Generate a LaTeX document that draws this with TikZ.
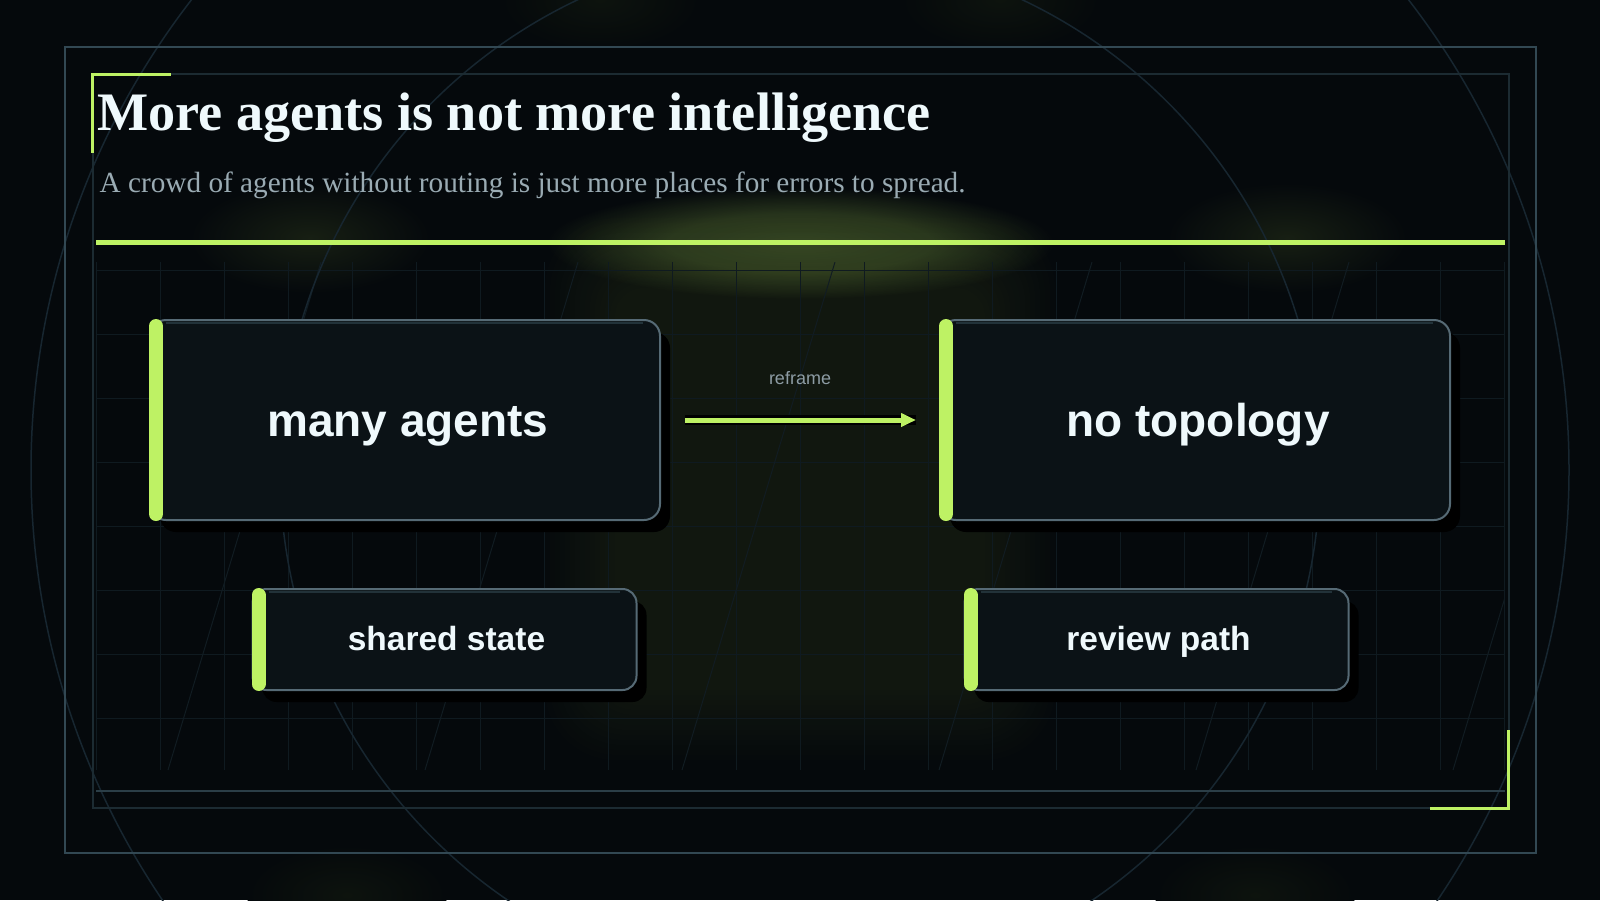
\documentclass[tikz,border=0pt]{standalone}
\usepackage{fontspec}
\setmainfont{Liberation Serif}
\setsansfont{Liberation Sans}
\usetikzlibrary{arrows.meta,calc,shadows,fadings}

\definecolor{bgc}{HTML}{05090C}
\definecolor{limec}{HTML}{BEF264}
\definecolor{framec}{HTML}{324853}
\definecolor{innerc}{HTML}{1C2B32}
\definecolor{footc}{HTML}{2B3E47}
\definecolor{circc}{HTML}{172630}
\definecolor{gridc}{HTML}{0F1A20}
\definecolor{diagc}{HTML}{111C22}
\definecolor{boxc}{HTML}{0B1216}
\definecolor{bordc}{HTML}{566A75}
\definecolor{hic}{HTML}{223239}
\definecolor{titlec}{HTML}{EFF9FC}
\definecolor{subc}{HTML}{9AABB3}
\definecolor{labc}{HTML}{8D9CA4}
\definecolor{glowc}{HTML}{11170F}
\definecolor{glowside}{HTML}{171F13}
\definecolor{glowfaint}{HTML}{0D130D}

\pgfdeclareradialshading{platshade}{\pgfpoint{0bp}{0bp}}{color(0bp)=(white); color(6.5bp)=(white!78!black); color(12.5bp)=(black); color(50bp)=(black)}
\pgfdeclarefading{platfade}{\tikz\shade[shading=platshade] (-50bp,-50bp) rectangle (50bp,50bp);}
\pgfdeclareradialshading{sideglow}{\pgfpoint{0bp}{0bp}}{color(0bp)=(glowside); color(25bp)=(bgc); color(50bp)=(bgc)}
\pgfdeclareradialshading{faintglow}{\pgfpoint{0bp}{0bp}}{color(0bp)=(glowfaint); color(25bp)=(bgc); color(50bp)=(bgc)}

\begin{document}
\begin{tikzpicture}[x=1pt,y=-1pt,
  gridline/.style={draw=gridc, line width=1pt},
  diagline/.style={draw=diagc, line width=1pt},
  ringline/.style={draw=circc, line width=1.5pt},
  cornerline/.style={draw=limec, line width=3pt},
  accentbar/.style={draw=limec, line width=14pt, line cap=round},
  hiline/.style={draw=hic, line width=2pt},
  bigbox/.style={draw=bordc, line width=2pt, fill=boxc, rounded corners=16pt,
    minimum width=510pt, minimum height=200pt, inner sep=0pt,
    font=\sffamily\bfseries\fontsize{46}{50}\selectfont, text=titlec,
    text height=33.4pt, text depth=0pt,
    drop shadow={shadow xshift=10pt, shadow yshift=-12pt, fill=black, opacity=1}},
  smallbox/.style={draw=bordc, line width=2pt, fill=boxc, rounded corners=14pt,
    minimum width=384pt, minimum height=101pt, inner sep=0pt,
    font=\sffamily\bfseries\fontsize{33.5}{38}\selectfont, text=titlec,
    text height=22.4pt, text depth=0pt,
    drop shadow={shadow xshift=10pt, shadow yshift=-12pt, fill=black, opacity=1}},
  labstyle/.style={font=\sffamily\fontsize{18}{20}\selectfont, text=labc, inner sep=0pt}
]
\useasboundingbox (0,0) rectangle (1600,900);
\fill[bgc] (0,0) rectangle (1600,900);

% ---- glows ----
\foreach \i in {0,...,14}{
  \pgfmathsetmacro{\pc}{(\i+1)*100/15}
  \fill[glowc!\pc!bgc, rounded corners={70pt-3pt*\i}]
    ({545+5*\i},{218+5*\i}) rectangle ({1055-5*\i},{760-5*\i});
}
\fill[limec, opacity=0.24, path fading=platfade] (800,243) ellipse [x radius=255, y radius=56];
\shade[shading=sideglow] (310,238) ellipse [x radius=120, y radius=55];
\shade[shading=sideglow] (1287,238) ellipse [x radius=120, y radius=55];
\shade[shading=faintglow] (600,0) ellipse [x radius=100, y radius=50];
\shade[shading=faintglow] (1000,0) ellipse [x radius=100, y radius=50];
\shade[shading=faintglow] (347,895) ellipse [x radius=100, y radius=50];
\shade[shading=faintglow] (1255,895) ellipse [x radius=100, y radius=50];

% ---- grid ----
\foreach \i in {0,...,22}{
  \draw[gridline] ({96+64*\i},262) -- ({96+64*\i},770);
}
\foreach \j in {0,...,7}{
  \draw[gridline] (96,{270+64*\j}) -- (1504,{270+64*\j});
}
\begin{scope}
  \clip (96,262) rectangle (1504,770);
  \foreach \k in {0,...,5}{
    \draw[diagline] ({168+257*\k+153},262) -- ({168+257*\k},770);
  }
\end{scope}

% ---- rings ----
\begin{scope}
  \clip (0,0) rectangle (1600,900);
  \draw[ringline] (800,470) circle [radius=769];
  \draw[ringline] (800,470) circle [radius=520];
\end{scope}

% ---- frames ----
\draw[framec, line width=2pt] (65,46.7) rectangle (1536,853);
\draw[innerc, line width=2pt] (92.7,74.3) rectangle (1508.5,808);
\draw[footc, line width=2pt] (96,791) -- (1505,791);
\draw[cornerline] (92.7,152.7) -- (92.7,74.3) -- (170.7,74.3);
\draw[cornerline] (1430,808) -- (1508.5,808) -- (1508.5,730);

% ---- header ----
\draw[limec, line width=4.5pt] (96,242.5) -- (1505,242.5);
\node[anchor=base west, inner sep=0pt, text=titlec,
      font=\rmfamily\bfseries\fontsize{54.2}{60}\selectfont] (title) at (97,130)
      {More agents is not more intelligence};
\node[anchor=base west, inner sep=0pt, text=subc,
      font=\rmfamily\fontsize{29.25}{34}\selectfont] (subtitle) at (99.5,192)
      {A crowd of agents without routing is just more places for errors to spread.};

% ---- boxes ----
\node[bigbox] (mA) at (405,420) {\hspace*{6pt}many agents};
\node[bigbox] (nT) at (1195,420) {\hspace*{6pt}no topology};
\node[smallbox] (sS) at (444.5,639.5) {\hspace*{4pt}shared state};
\node[smallbox] (rP) at (1156.5,639.5) {\hspace*{4pt}review path};

\foreach \n in {mA,nT,sS,rP}{
  \draw[hiline] ($(\n.north west)+(17,4)$) -- ($(\n.north east)+(-18,4)$);
  \draw[accentbar] ($(\n.north west)+(7,7)$) -- ($(\n.south west)+(7,-7)$);
}

% ---- connector ----
\draw[black, line width=10pt, shorten <=24pt, shorten >=23pt] (mA.east) -- (nT.west);
\draw[limec, line width=5pt, -{Triangle[length=15pt,width=13pt]},
      shorten <=24pt, shorten >=23pt] (mA.east) -- (nT.west)
      node[midway, anchor=base, yshift=36pt, labstyle] (lab) {reframe};
\end{tikzpicture}
\end{document}
